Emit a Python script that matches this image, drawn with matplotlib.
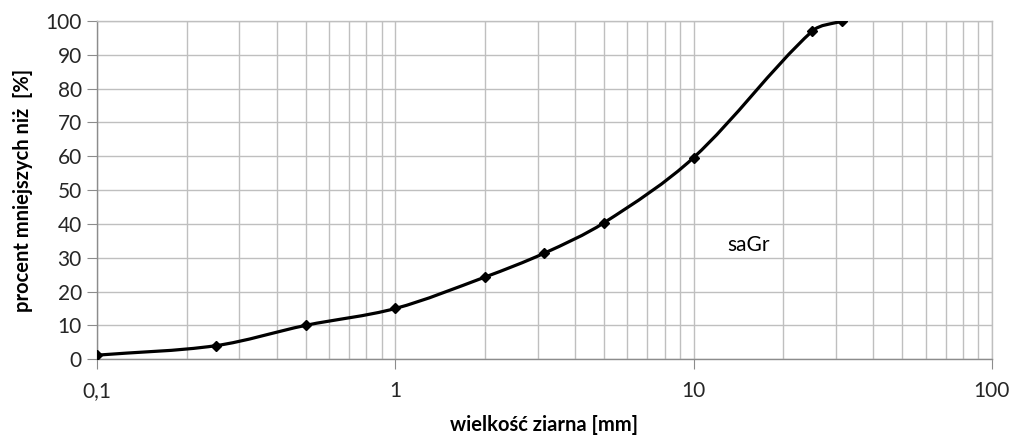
import numpy as np
import matplotlib.pyplot as plt
from matplotlib.path import Path
from matplotlib.patches import PathPatch
from matplotlib.ticker import FixedLocator, LogLocator, NullFormatter

# grain size distribution (sieve sizes in mm, percent passing)
grain_mm = [0.1, 0.25, 0.5, 1.0, 2.0, 3.15, 5.0, 10.0, 25.0, 31.5]
passing = [1.2, 4.0, 10.0, 15.0, 24.3, 31.3, 40.3, 59.6, 97.0, 100.0]
x_ticks = [0.1, 1, 10, 100]
x_ticklabels = ["0,1", "1", "10", "100"]
y_ticks = list(range(0, 101, 10))

plt.rcParams["font.family"] = ["Lato", "DejaVu Sans"]

AX_RECT = [0.096, 0.178, 0.885, 0.774]
FIGSIZE = (10.11, 4.37)


def smooth_path(xs, ys):
    # Excel-like smoothed line: cubic Bezier segments, built in screen-like units
    sx = AX_RECT[2] * FIGSIZE[0] * 100 / 3.0   # px per decade
    sy = AX_RECT[3] * FIGSIZE[1] * 100 / 100.0  # px per percent
    p = np.column_stack([np.log10(xs) * sx, np.asarray(ys, float) * sy])
    n = len(p)
    tang = []
    for i in range(n):
        d = p[min(i + 1, n - 1)] - p[max(i - 1, 0)]
        tang.append(d / np.hypot(*d))
    verts = [p[0]]
    codes = [Path.MOVETO]
    for i in range(n - 1):
        seg = np.hypot(*(p[i + 1] - p[i])) / 3.0
        verts += [p[i] + tang[i] * seg, p[i + 1] - tang[i + 1] * seg, p[i + 1]]
        codes += [Path.CURVE4] * 3
    verts = [(10 ** (v[0] / sx), v[1] / sy) for v in verts]
    return Path(verts, codes)


fig = plt.figure(figsize=FIGSIZE, dpi=100)
ax = fig.add_axes(AX_RECT)

ax.set_xscale("log")
ax.set_xlim(0.1, 100)
ax.set_ylim(0, 100)

ax.xaxis.set_major_locator(FixedLocator(x_ticks))
ax.set_xticklabels(x_ticklabels)
ax.xaxis.set_minor_locator(LogLocator(base=10, subs=np.arange(2, 10)))
ax.xaxis.set_minor_formatter(NullFormatter())
ax.set_yticks(y_ticks)

grid_c = "#bfbfbf"
ax.grid(True, which="both", axis="x", color=grid_c, lw=1.0)
ax.grid(True, which="major", axis="y", color=grid_c, lw=1.0)
ax.set_axisbelow(True)
for side in ["left", "bottom", "top", "right"]:
    ax.spines[side].set_color("#8c8c8c" if side in ("left", "bottom") else grid_c)
    ax.spines[side].set_linewidth(1.0)

ax.tick_params(axis="both", which="major", direction="out", length=7,
               color="#8c8c8c", labelsize=15, labelcolor="#262626")
ax.tick_params(axis="x", which="minor", length=0)
ax.tick_params(axis="x", which="major", pad=9)
ax.tick_params(axis="y", which="major", pad=4)

ax.add_patch(PathPatch(smooth_path(grain_mm, passing), fill=False,
                       lw=2.3, ec="black", zorder=3))
ax.plot(grain_mm, passing, ls="none", marker="D", ms=5, color="black", zorder=4)

ax.text(15.3, 33.7, "saGr", fontsize=15, ha="center", va="center", color="black")

ax.set_xlabel("wielkość ziarna [mm]", fontsize=14.5, fontweight="bold", labelpad=10)
ax.set_ylabel("procent mniejszych niż  [%]", fontsize=14.5, fontweight="bold", labelpad=9)

fig.savefig("out.png", dpi=100, facecolor="white")
